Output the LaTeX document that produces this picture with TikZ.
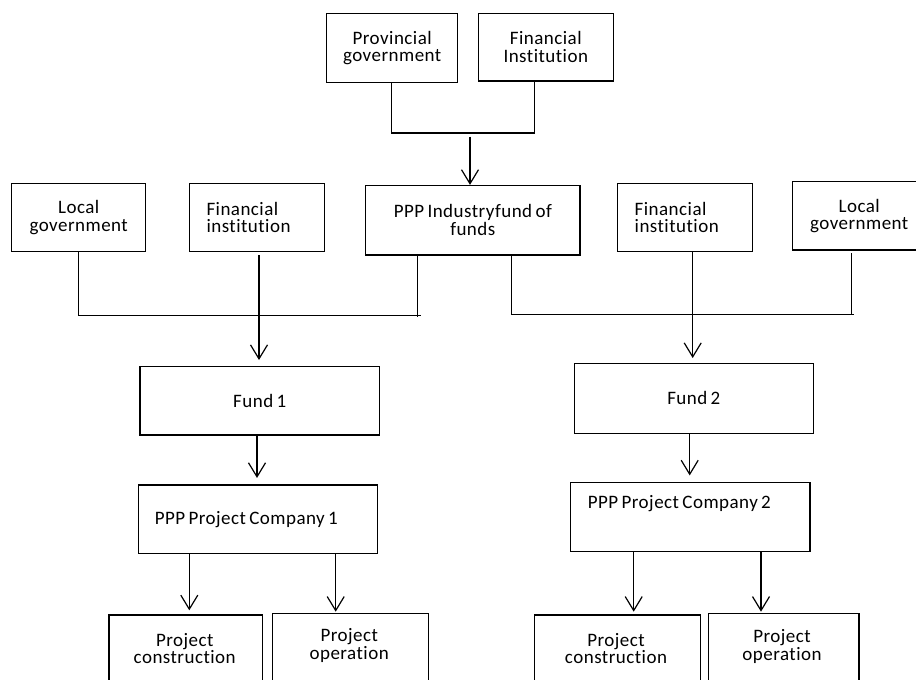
\documentclass[tikz,border=0pt]{standalone}
\usepackage{fontspec}
\setmainfont{Carlito}[RawFeature=-liga, LetterSpace=2.5, WordSpace=0.7]
\usetikzlibrary{arrows.meta}
\tikzset{
  box/.style={draw, line width=1.2pt, inner sep=0pt, align=flush center,
    font=\fontsize{19}{17.5}\selectfont},
  lbox/.style={box, align=flush left, inner xsep=17pt},
  txt/.style={inner sep=0pt, align=flush center, font=\fontsize{19}{17.5}\selectfont},
  link/.style={line width=1.2pt},
  arr/.style={line width=1.2pt, -{Straight Barb[length=14pt,width=17pt,line width=1.2pt]}},
}
\begin{document}
\begin{tikzpicture}[x=1pt,y=-1pt]
\useasboundingbox (0,0) rectangle (916,680);
\clip (0,0) rectangle (916,680);
\fill[white] (0,0) rectangle (916,680);
% top row
\node[box, text width=131pt, minimum height=69pt] (prov) at (392.2,47.8) {Provincial\\government};
\node[box, text width=135pt, minimum height=67.7pt] (fitop) at (545.8,47.2) {Financial\\Institution};
% middle row
\node[box, text width=134pt, minimum height=68.4pt] (lg1) at (78.7,217.5) {Local\\government};
\node[lbox, text width=101pt, minimum height=68.4pt] (fi1) at (257,217.5) {Financial\\institution};
\node[box, text width=214.3pt, minimum height=69.5pt] (ppp) at (472.8,220.2) {PPP Industryfund of\\funds};
\node[lbox, text width=101pt, minimum height=68.4pt] (fi2) at (685.2,217.5) {Financial\\institution};
\node[box, text width=133.7pt, minimum height=68.4pt] (lg2) at (859.2,215.8) {Local\\government};
% funds
\node[box, text width=239.3pt, minimum height=68.3pt] (fund1) at (259.7,400.8) {Fund 1};
\node[box, text width=239pt, minimum height=70pt] (fund2) at (693.8,398.3) {Fund 2};
% project companies
\node[lbox, text width=206.4pt, minimum height=68.3pt, inner xsep=16pt] (pc1) at (258,519.2) {PPP Project Company 1};
\node[box, minimum width=239.3pt, minimum height=69.4pt] (pc2) at (690.3,517) {};
\node[txt, anchor=west] (pc2t) at (587.7,503.3) {PPP Project Company 2};
% bottom boxes
\node[box, minimum width=153.7pt, minimum height=75pt, anchor=north] (con1) at (185.8,614.3) {};
\node[txt] (con1t) at (184.7,648.3) {Project\\construction};
\node[box, minimum width=155.6pt, minimum height=75pt, anchor=north] (op1) at (350.5,612.7) {};
\node[txt] (op1t) at (349.2,645.3) {Project\\operation};
\node[box, minimum width=166pt, minimum height=75pt, anchor=north] (con2) at (617.3,614.3) {};
\node[txt] (con2t) at (616,648.3) {Project\\construction};
\node[box, minimum width=150.7pt, minimum height=75pt, anchor=north] (op2) at (783.6,612.7) {};
\node[txt] (op2t) at (782,646.6) {Project\\operation};
% top junction
\coordinate (t1) at (391.3,133);
\coordinate (t2) at (534.3,133);
\coordinate (t3) at (470,136.7);
\draw[link] (prov.south -| t1) -- (t1) -- (t2) -- (fitop.south -| t2);
\draw[arr] (t3) -- (ppp.north -| t3);
% left junction
\coordinate (l1) at (78.3,315.7);
\coordinate (l2) at (420.7,315.7);
\coordinate (l3) at (417.7,255);
\coordinate (l4) at (417.7,316.5);
\coordinate (l5) at (259,255);
\coordinate (l6) at (259,360);
\draw[link] (lg1.south -| l1) -- (l1) -- (l2);
\draw[link] (l3) -- (l4);
\draw[arr] (l5) -- (l6);
% right junction
\coordinate (r1) at (511.7,314.3);
\coordinate (r2) at (854.3,314.3);
\coordinate (r3) at (851.7,253.3);
\coordinate (r4) at (851.7,315);
\coordinate (r5) at (692.7,251.7);
\coordinate (r6) at (692.7,358);
\draw[link] (ppp.south -| r1) -- (r1) -- (r2);
\draw[link] (r3) -- (r4);
\draw[arr] (r5) -- (r6);
% funds to companies
\coordinate (f1) at (257,0);
\coordinate (f2) at (689.7,0);
\draw[arr, shorten >=6.5pt] (fund1.south -| f1) -- (pc1.north -| f1);
\draw[arr, shorten >=6.3pt] (fund2.south -| f2) -- (pc2.north -| f2);
% companies to activities
\coordinate (c1) at (189.3,0);
\coordinate (c2) at (335.7,0);
\coordinate (c3) at (633.7,0);
\coordinate (c4) at (761,0);
\draw[arr, shorten >=4pt] (pc1.south -| c1) -- (con1.north -| c1);
\draw[arr, shorten >=1pt] (pc1.south -| c2) -- (op1.north -| c2);
\draw[arr, shorten >=2.6pt] (pc2.south -| c3) -- (con2.north -| c3);
\draw[arr, shorten >=1pt] (pc2.south -| c4) -- (op2.north -| c4);
\end{tikzpicture}
\end{document}
